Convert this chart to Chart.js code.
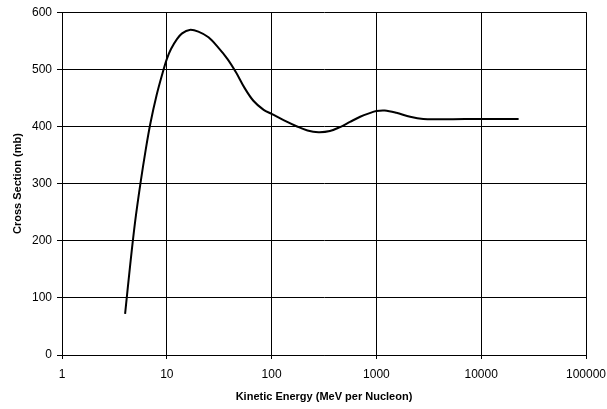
<!DOCTYPE html>
<html>
<head>
<meta charset="utf-8">
<script src="https://cdn.jsdelivr.net/npm/chart.js@4/dist/chart.umd.min.js"></script>
<style>
  html, body { margin: 0; padding: 0; background: #fff; }
  #wrap { width: 607px; height: 409px; }
</style>
</head>
<body>
<div id="wrap"><canvas id="xsec"></canvas></div>
<script>
// kinetic energy (MeV per nucleon) and cross section (mb)
const energies = [4, 4.5, 5, 5.6, 6.3, 7, 8, 9, 10, 11, 12.5, 14, 16.5, 20, 25, 31, 38, 46, 55, 67, 84,
                  100, 130, 175, 220, 280, 360, 450, 560, 700, 850, 1000, 1200, 1550, 2100, 2800, 4000, 7000, 22750];
const crossSections = [72, 162, 235, 300, 360, 407, 455, 490, 518, 536, 553, 563, 569, 566, 556, 538, 518, 494, 468, 445, 429,
                       422, 411, 400, 393, 390, 392, 399, 408, 417, 423, 427, 428, 424, 417, 413, 412.5, 413, 413];
const energyTicks = [1, 10, 100, 1000, 10000, 100000];

const points = energies.map((e, i) => ({ x: e, y: crossSections[i] }));

const tickFont = { family: 'Liberation Sans, Arial, sans-serif', size: 12 };
const titleFont = { family: 'Liberation Sans, Arial, sans-serif', size: 11, weight: 'bold' };

new Chart(document.getElementById('xsec'), {
  type: 'scatter',
  data: {
    datasets: [{
      data: points,
      showLine: true,
      borderColor: '#000',
      borderWidth: 2,
      pointRadius: 0,
      tension: 0.35,
      fill: false
    }]
  },
  options: {
    responsive: true,
    maintainAspectRatio: false,
    animation: false,
    layout: { padding: { top: 9, right: 21, left: 0, bottom: 0 } },
    plugins: { legend: { display: false }, tooltip: { enabled: false } },
    scales: {
      x: {
        type: 'logarithmic',
        min: 1,
        max: 100000,
        afterBuildTicks: scale => { scale.ticks = energyTicks.map(v => ({ value: v })); },
        afterFit: scale => {
          scale.height = 54;
          // end labels may hang past the plot; the outer padding already leaves room
          scale.paddingLeft = 0;
          scale.paddingRight = 0;
        },
        ticks: {
          color: '#000',
          font: tickFont,
          padding: 8,
          maxRotation: 0,
          callback: v => String(v)
        },
        grid: { color: '#000', lineWidth: 1, tickLength: 4, drawTicks: true },
        border: { color: '#000', width: 1 },
        title: {
          display: true,
          text: 'Kinetic Energy (MeV per Nucleon)',
          color: '#000',
          font: titleFont,
          padding: { top: 0, bottom: 5 }
        }
      },
      y: {
        min: 0,
        max: 600,
        afterFit: scale => { scale.width = 62; },
        ticks: { stepSize: 100, color: '#000', font: tickFont, padding: 5 },
        grid: { color: '#000', lineWidth: 1, tickLength: 5 },
        border: { color: '#000', width: 1 },
        title: {
          display: true,
          text: 'Cross Section (mb)',
          color: '#000',
          font: titleFont,
          padding: { top: 11, bottom: 0 }
        }
      }
    }
  }
});
</script>
</body>
</html>
